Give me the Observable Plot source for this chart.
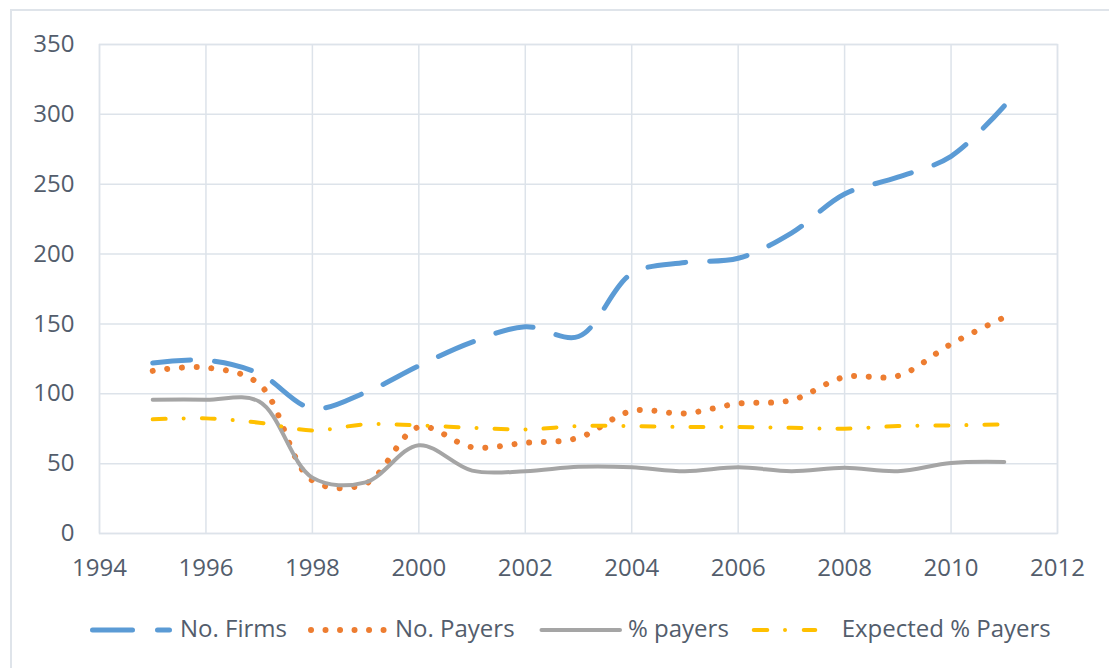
<!DOCTYPE html>
<html><head><meta charset="utf-8">
<script src="https://cdn.jsdelivr.net/npm/d3@7"></script>
<script src="https://cdn.jsdelivr.net/npm/@observablehq/plot@0.6"></script>
<style>
body{margin:0;background:#fff;font-family:"Open Sans",sans-serif;}
#wrap{position:relative;width:1109px;height:668px;overflow:hidden;}
#border{position:absolute;left:10px;top:9px;width:1200px;height:800px;border-left:2px solid #dfe4ea;border-top:2px solid #dfe4ea;}
#chart{position:absolute;left:0;top:0;}
#legend{position:absolute;left:0;top:600px;}
</style></head><body><div id="wrap"><div id="border"></div><div id="chart"></div><div id="legend"></div></div>
<script>
const years = [1995,1996,1997,1998,1999,2000,2001,2002,2003,2004,2005,2006,2007,2008,2009,2010,2011];
const noFirms = [122,124,114.5,89.6,101,120,137,148,141,186,194,197,215,243,255,270,306];
const noPayers = [116.4,118.8,107,37.9,35.7,76.2,61.8,64.9,68.5,87.7,86,93,95.4,112,112.8,135.6,154.7];
const pctPayers = [95.8,95.8,94.5,40,36.6,63.2,45,44.6,47.7,47.4,44.6,47.4,44.6,47,44.6,50.5,51.2];
const expectedPayers = [81.7,82.4,79.3,73.8,78.1,77.4,75.7,74.5,76.9,76.9,76.2,76.2,75.7,75,76.9,77.4,78.1];
const seriesNames = ["No. Firms","No. Payers","% payers","Expected % Payers"];
const xTicks = [1994,1996,1998,2000,2002,2004,2006,2008,2010,2012];
const yTicks = [0,50,100,150,200,250,300,350];

const styles = [
  {color:"#5b9bd5", width:5, dash:"38,24"},
  {color:"#ed7d31", width:6, dash:"0.01,14.7"},
  {color:"#a5a5a5", width:4, dash:null},
  {color:"#ffc000", width:4, dash:"13,18,0.01,18"}
];
const seriesValues = [noFirms, noPayers, pctPayers, expectedPayers];
const textColor = "#535d6c";
const gridColor = "#dde3ea";

const chart = Plot.plot({
  width:1109, height:600,
  marginTop:44, marginLeft:99, marginRight:52, marginBottom:67,
  x:{domain:[1994,2012], label:null},
  y:{domain:[0,350], label:null},
  style:{fontFamily:"Open Sans", fontSize:"24px", color:textColor, background:"transparent", overflow:"visible"},
  marks:[
    Plot.gridX(xTicks,{stroke:gridColor, strokeOpacity:1, strokeWidth:1.5}),
    Plot.gridY(yTicks,{stroke:gridColor, strokeOpacity:1, strokeWidth:1.5}),
    Plot.frame({stroke:gridColor, strokeWidth:1.5}),
    Plot.axisX(xTicks,{tickSize:0, tickPadding:25, tickFormat:d=>String(d), label:null, fontSize:24}),
    Plot.axisY(yTicks,{tickSize:0, tickPadding:25, label:null, fontSize:24}),
    ...seriesValues.map((vals,k)=>Plot.line(vals,{
      x:(d,i)=>years[i], y:d=>d, curve:"catmull-rom",
      stroke:styles[k].color, strokeWidth:styles[k].width,
      strokeDasharray:styles[k].dash, strokeLinecap:"round", strokeLinejoin:"round"
    }))
  ]
});
document.getElementById("chart").appendChild(chart);

// legend
const lg = d3.select("#legend").append("svg").attr("width",1109).attr("height",68)
  .style("font-family","Open Sans").style("font-size","24px");
const legendItems = [
  {x1:92.5, x2:169.5, tx:180, dash:"40,25"},
  {x1:311, x2:384, tx:395, dash:"0.01,14.5"},
  {x1:541.5, x2:620, tx:628, dash:null},
  {x1:753.7, x2:815.3, tx:841.7, dash:"13.6,17.7,0.01,18.7"}
];
legendItems.forEach((it,k)=>{
  lg.append("line").attr("x1",it.x1).attr("x2",it.x2).attr("y1",30).attr("y2",30)
    .attr("stroke",styles[k].color).attr("stroke-width",styles[k].width)
    .attr("stroke-linecap","round").attr("stroke-dasharray",it.dash);
  lg.append("text").attr("x",it.tx).attr("y",37.3).attr("fill",textColor).text(seriesNames[k]);
});
</script>
</body></html>
